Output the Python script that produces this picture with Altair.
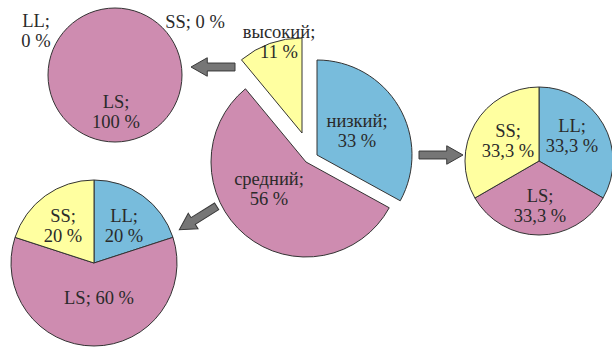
import math
import altair as alt
import pandas as pd

# ---------------- data ----------------
LEVELS = ["низкий", "средний", "высокий"]
LEVEL_PCT = [33, 56, 11]

GROUPS = ["LL", "LS", "SS"]
LOW_PCT = [33.3, 33.3, 33.3]    # breakdown of "низкий"
MID_PCT = [20, 60, 20]          # breakdown of "средний"
HIGH_PCT = [0, 100, 0]          # breakdown of "высокий"

# ---------------- style / layout ----------------
BLUE, PINK, YELLOW = "#78bcdc", "#ce8cb0", "#ffffa0"
COLOR_DOMAIN = LEVELS + GROUPS
COLOR_RANGE = [BLUE, PINK, YELLOW, BLUE, PINK, YELLOW]
TEXT_COLOR = "#2a2a2a"
FONT = "Liberation Serif"
W, H = 612, 347

MAIN = dict(cx=306, cy=162, r=95, offsets=[(11, -7), (0, 0), (-4, -29)])
PIE_LOW = dict(cx=539, cy=161, r=74)
PIE_MID = dict(cx=94, cy=263, r=83)
PIE_HIGH = dict(cx=115, cy=75, r=67)


def pct(v):
    return f"{v:g}".replace(".", ",") + " %"


def pie_rows(name, labels, values, cx, cy, r, offsets=None):
    rows, a, total = [], 0.0, float(sum(values))
    for i, (lab, v) in enumerate(zip(labels, values)):
        start = a
        end = a + v / total * 2 * math.pi
        a = end
        dx, dy = offsets[i] if offsets else (0, 0)
        if v > 0:
            rows.append(dict(pie=name, label=lab, value=v, start=start, end=end,
                             cx=cx + dx, cy=cy + dy, r=r))
    return rows


arcs = pd.DataFrame(
    pie_rows("main", LEVELS, LEVEL_PCT, MAIN["cx"], MAIN["cy"], MAIN["r"], MAIN["offsets"])
    + pie_rows("low", GROUPS, LOW_PCT, **PIE_LOW)
    + pie_rows("mid", GROUPS, MID_PCT, **PIE_MID)
    + pie_rows("high", GROUPS, HIGH_PCT, **PIE_HIGH)
)

# labels: text from data, positions from layout
labels = pd.DataFrame([
    dict(t=f"{LEVELS[0]};\n{LEVEL_PCT[0]} %", x=357, y=127),
    dict(t=f"{LEVELS[1]};\n{LEVEL_PCT[1]} %", x=269, y=185),
    dict(t=f"{LEVELS[2]};\n{LEVEL_PCT[2]} %", x=279, y=38),
    dict(t=f"{GROUPS[0]};\n{pct(LOW_PCT[0])}", x=572, y=132),
    dict(t=f"{GROUPS[1]};\n{pct(LOW_PCT[1])}", x=540, y=202),
    dict(t=f"{GROUPS[2]};\n{pct(LOW_PCT[2])}", x=508, y=137),
    dict(t=f"{GROUPS[0]};\n{pct(MID_PCT[0])}", x=124, y=222),
    dict(t=f"{GROUPS[1]}; {pct(MID_PCT[1])}", x=99, y=304),
    dict(t=f"{GROUPS[2]};\n{pct(MID_PCT[2])}", x=63, y=222),
    dict(t=f"{GROUPS[0]};\n{pct(HIGH_PCT[0])}", x=36, y=27),
    dict(t=f"{GROUPS[1]};\n{pct(HIGH_PCT[1])}", x=116, y=108),
    dict(t=f"{GROUPS[2]}; {pct(HIGH_PCT[2])}", x=195, y=28),
])

arrows = pd.DataFrame([
    dict(x=213, y=67, a=180),
    dict(x=441, y=155, a=0),
    dict(x=198, y=218, a=148),
])
ARROW_PATH = "M-1,-0.18 L0.26,-0.18 L0.26,-0.42 L1,0 L0.26,0.42 L0.26,0.18 L-1,0.18 Z"

pies = alt.Chart(arcs).mark_arc(stroke="#333333", strokeWidth=1).encode(
    x=alt.X("cx:Q", scale=None, axis=None),
    y=alt.Y("cy:Q", scale=None, axis=None),
    theta=alt.Theta("start:Q", scale=None),
    theta2="end:Q",
    radius=alt.Radius("r:Q", scale=None),
    color=alt.Color("label:N", scale=alt.Scale(domain=COLOR_DOMAIN, range=COLOR_RANGE), legend=None),
)

text = alt.Chart(labels).mark_text(
    font=FONT, fontSize=18.5, lineBreak="\n", lineHeight=20,
    align="center", baseline="alphabetic", color=TEXT_COLOR,
).encode(
    x=alt.X("x:Q", scale=None, axis=None),
    y=alt.Y("y:Q", scale=None, axis=None),
    text="t:N",
)

arrow_marks = alt.Chart(arrows).mark_point(
    shape=ARROW_PATH, size=1936, filled=True, fill="#767676", stroke="#3a3a3a",
    strokeWidth=1, opacity=1,
).encode(
    x=alt.X("x:Q", scale=None, axis=None),
    y=alt.Y("y:Q", scale=None, axis=None),
    angle=alt.Angle("a:Q", scale=None),
)

chart = alt.layer(pies, arrow_marks, text).properties(
    width=W, height=H, padding=0, autosize=alt.AutoSizeParams(type="none"),
    background="white",
).configure_view(stroke=None)

chart.save("out.html", embed_options={"renderer": "svg", "actions": False})
